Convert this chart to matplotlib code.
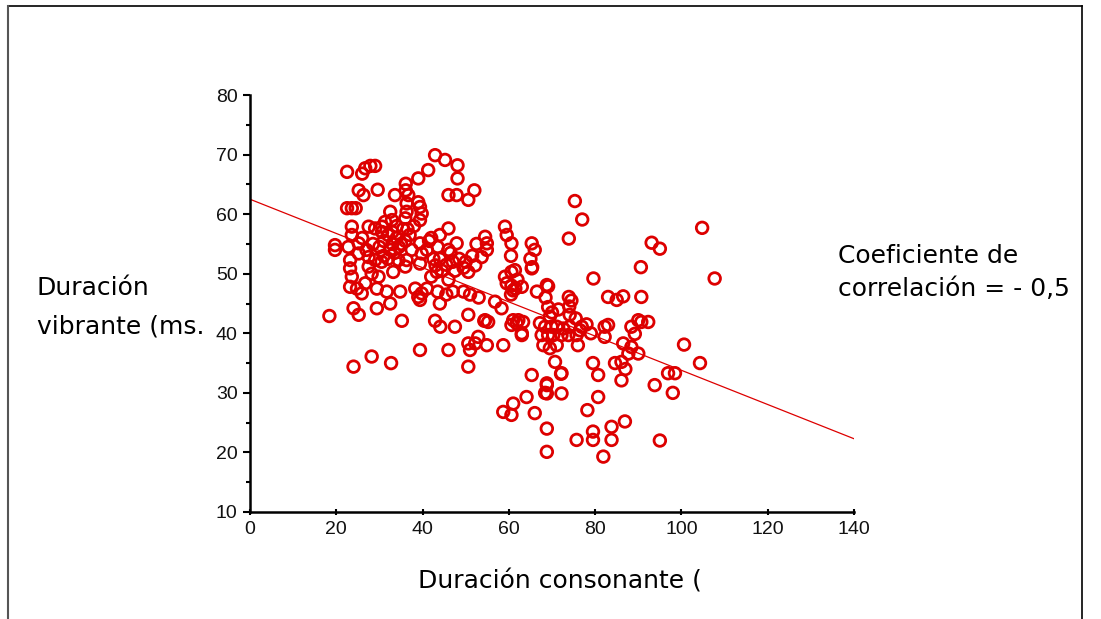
import numpy as np
import matplotlib
matplotlib.use('Agg')
import matplotlib.pyplot as plt
from matplotlib.lines import Line2D
from matplotlib.ticker import MultipleLocator

# consonant duration (x) and vibrant duration (y)
cons = [22.5, 26.7, 27.9, 29.0, 26.0, 25.2, 26.3, 29.6, 22.5, 23.6, 24.5,
        33.6, 36.1, 36.1, 36.7, 39.0, 41.3, 42.9, 45.2, 48.1, 48.1, 46.0, 47.9, 50.6, 52.0,
        39.4, 39.8, 39.4, 39.0, 36.3, 36.3, 36.0, 32.5, 32.9, 31.3, 30.6,
        27.5, 29.0, 30.6, 23.6, 23.6, 19.7, 19.7, 22.8, 25.2, 25.2,
        23.2, 23.2, 23.6, 23.2, 24.8, 25.9, 26.7, 27.5, 29.0, 27.5, 28.2, 29.8,
        29.4, 31.7, 34.8, 38.3, 39.8, 33.2, 36.0, 36.3, 34.4,
        31.0, 32.0, 33.0, 34.0, 35.0, 32.5, 33.5, 31.0, 30.0, 35.5, 34.0, 33.0, 34.5,
        36.0, 37.0, 32.0, 30.5, 28.5, 27.0, 26.0, 37.5, 36.5, 38.0,
        39.4, 39.8, 39.4, 41.0, 41.5, 43.5, 42.5, 43.0, 43.3, 42.0, 44.5, 45.5, 44.0,
        46.0, 47.0, 48.5, 46.5, 47.5, 49.5, 46.0, 47.9, 46.0, 44.0, 42.0,
        54.5, 54.9, 54.9, 53.7, 52.2, 50.6, 51.5, 50.0, 52.5,
        39.0, 39.4, 41.0, 43.5, 45.5, 47.0, 49.5, 51.0, 53.0, 44.0,
        56.8, 58.3, 59.1, 59.5, 60.6, 61.4, 61.0, 63.0, 60.5, 59.1, 59.5, 60.6,
        65.3, 66.0, 65.3, 68.8,
        18.4, 24.0, 25.2, 29.4, 32.5, 35.2, 24.0, 28.2, 32.7, 39.4,
        42.9, 44.1, 46.0, 47.5, 50.6, 50.6, 51.0, 50.6, 52.9, 52.2, 54.3, 54.9, 58.7,
        60.6, 62.2, 63.3, 63.0, 55.2,
        65.3, 58.7, 60.6, 61.0, 64.1, 66.0, 68.8, 68.8, 68.8, 68.8,
        75.3, 77.0, 73.9, 104.8, 107.7, 93.1, 95.0, 90.6, 79.6, 90.7, 83.0, 85.0, 86.5,
        69.1, 73.9, 65.4, 100.6, 104.3, 96.9, 98.5, 98.0, 93.8, 95.0,
        86.9, 83.8, 83.8, 81.9, 79.5, 79.5, 75.7, 78.2, 80.7,
        68.8, 68.4, 72.2, 72.1, 79.5, 80.7, 86.1, 86.1, 84.6,
        86.5, 88.4, 90.0, 87.7, 87.0, 82.2, 83.0, 82.2,
        88.4, 90.7, 92.3, 90.0, 89.2, 76.9, 74.1, 74.1, 69.1, 69.5,
        67.2, 68.4, 69.9, 71.1, 72.6, 67.6, 69.1, 70.3, 72.2, 73.8, 75.7,
        68.0, 69.5, 71.1, 76.0, 70.7, 72.2, 61.0, 61.8, 63.0, 54.5,
        60.6, 62.0, 61.5, 60.5, 65.0, 66.5, 68.5, 74.0, 74.5, 79.0, 78.0, 75.5, 76.5, 70.0, 71.5]

vibr = [67.1, 67.7, 68.1, 68.1, 66.8, 64.0, 63.2, 64.1, 61.0, 61.0, 61.0,
        63.2, 65.1, 64.0, 63.2, 66.0, 67.4, 69.9, 69.1, 68.2, 66.0, 63.2, 63.2, 62.4, 64.0,
        59.0, 60.1, 61.2, 62.0, 61.8, 60.4, 59.3, 60.4, 59.0, 58.7, 57.9,
        57.9, 57.6, 57.0, 57.9, 56.5, 54.8, 54.0, 54.5, 55.1, 53.4,
        52.3, 50.9, 49.5, 47.8, 47.5, 46.7, 48.4, 51.2, 52.3, 52.8, 50.0, 49.5,
        47.5, 47.0, 47.0, 47.5, 46.7, 50.3, 51.2, 52.3, 52.3,
        55.5, 56.5, 57.0, 56.0, 55.0, 54.0, 53.5, 53.0, 54.5, 57.5, 58.0, 55.0, 54.5,
        55.5, 56.5, 52.5, 52.0, 55.0, 54.0, 56.0, 54.0, 57.5, 58.0,
        55.1, 53.4, 51.7, 54.0, 55.5, 54.5, 52.5, 51.4, 50.3, 49.5, 50.5, 51.5, 52.5,
        49.0, 52.0, 52.5, 53.5, 50.5, 51.0, 57.6, 55.1, 54.0, 56.5, 56.0,
        56.2, 55.1, 54.0, 52.8, 51.4, 50.3, 53.0, 52.0, 55.0,
        46.1, 45.6, 47.5, 47.0, 46.5, 47.0, 47.0, 46.5, 46.0, 45.0,
        45.3, 44.2, 49.5, 48.4, 50.3, 50.6, 47.2, 47.8, 46.5, 57.9, 56.5, 55.1,
        55.1, 54.0, 50.9, 48.1,
        42.9, 44.2, 43.1, 44.2, 45.0, 42.1, 34.4, 36.1, 35.0, 37.2,
        42.1, 41.1, 37.2, 41.1, 43.1, 38.3, 37.2, 34.4, 39.4, 38.3, 42.1, 38.0, 38.0,
        41.4, 42.2, 41.9, 40.0, 41.9,
        33.0, 26.8, 26.3, 28.2, 29.3, 26.6, 24.0, 20.1, 29.9, 31.3,
        62.2, 59.1, 55.9, 57.7, 49.2, 55.2, 54.2, 51.1, 49.2, 46.1, 46.1, 45.6, 46.2,
        47.9, 46.1, 51.1, 38.1, 35.0, 33.3, 33.3, 30.0, 31.3, 22.0,
        25.2, 24.3, 22.1, 19.3, 23.5, 22.1, 22.1, 27.1, 29.3,
        31.6, 30.0, 29.9, 33.2, 35.0, 33.0, 32.1, 35.2, 35.0,
        38.3, 37.7, 36.6, 36.6, 34.0, 41.1, 41.4, 39.4,
        41.1, 41.9, 41.9, 42.2, 39.9, 41.1, 43.1, 41.1, 44.4, 42.8,
        41.7, 41.1, 41.1, 41.1, 40.8, 39.7, 39.7, 39.7, 39.7, 39.7, 39.7,
        38.0, 37.5, 38.0, 38.0, 35.2, 33.3, 42.2, 41.7, 39.7, 42.2,
        48.0, 49.0, 47.5, 53.0, 52.5, 47.0, 46.0, 44.5, 45.5, 40.0, 41.5, 42.5, 40.5, 43.5, 44.0]

# end points of the fitted line as drawn
fit_x = [0, 140]
fit_y = [62.5, 22.3]

red = '#dd0000'

fig = plt.figure(figsize=(11.01, 6.19), dpi=100)
ax = fig.add_axes([250 / 1101, 107 / 619, 604 / 1101, 417 / 619])

ax.scatter(cons, vibr, s=70, facecolors='none', edgecolors=red, linewidths=2.0, zorder=3)
ax.plot(fit_x, fit_y, color=red, linewidth=0.9, zorder=2)

ax.set_xlim(0, 140)
ax.set_ylim(10, 80)
ax.xaxis.set_major_locator(MultipleLocator(20))
ax.yaxis.set_major_locator(MultipleLocator(10))
ax.yaxis.set_minor_locator(MultipleLocator(5))

for s in ['top', 'right']:
    ax.spines[s].set_visible(False)
ax.spines['left'].set_linewidth(1.8)
ax.spines['bottom'].set_linewidth(1.8)

tick_font = ['Liberation Sans', 'DejaVu Sans']
ax.tick_params(axis='y', which='major', direction='out', length=5, width=1.5, pad=4,
               labelsize=14, labelcolor='#111111')
ax.tick_params(axis='y', which='minor', direction='out', length=3, width=1.5)
ax.tick_params(axis='x', which='major', direction='inout', length=5, width=1.5, pad=4,
               labelsize=14, labelcolor='#111111')
for lab in ax.get_xticklabels() + ax.get_yticklabels():
    lab.set_family(tick_font)

txt_font = ['DejaVu Sans']
fs = 18
fig.text(37 / 1101, 1 - 288 / 619, 'Duración', fontsize=fs, family=txt_font, va='center')
fig.text(37 / 1101, 1 - 326 / 619, 'vibrante (ms.', fontsize=fs, family=txt_font, va='center')
fig.text(838 / 1101, 1 - 256 / 619, 'Coeficiente de', fontsize=fs, family=txt_font, va='center')
fig.text(838 / 1101, 1 - 289 / 619, 'correlación = - 0,5', fontsize=fs, family=txt_font, va='center')
fig.text(560 / 1101, 1 - 582 / 619, 'Duración consonante (', fontsize=fs, family=txt_font,
         va='center', ha='center')

# outer frame (open at the bottom)
frame = dict(color='black', linewidth=1.2, transform=fig.transFigure, zorder=10)
fig.add_artist(Line2D([8 / 1101, 1082 / 1101], [1 - 6 / 619, 1 - 6 / 619], **frame))
fig.add_artist(Line2D([8 / 1101, 8 / 1101], [0, 1 - 6 / 619], color='#555555', linewidth=1.5,
                      transform=fig.transFigure, zorder=10))
fig.add_artist(Line2D([1082 / 1101, 1082 / 1101], [0, 1 - 6 / 619], **frame))

fig.savefig('out.png', dpi=100)
